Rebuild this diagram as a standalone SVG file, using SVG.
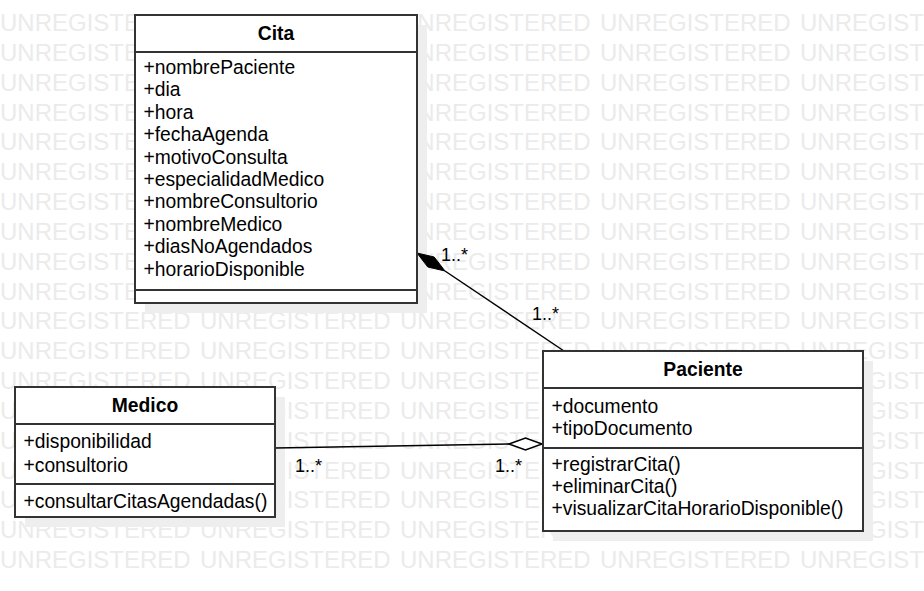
<svg xmlns="http://www.w3.org/2000/svg" width="924" height="591" viewBox="0 0 924 591">
<style>
.wm{font-family:"Liberation Sans",Arial,sans-serif;font-size:24px;fill:#ebebeb}
.t{font-family:"Liberation Sans",Arial,sans-serif;font-size:19.3px;fill:#000}
.b{font-weight:bold}
.lbl{font-family:"Liberation Sans",Arial,sans-serif;font-size:18px;fill:#000}
.box{fill:#fff;stroke:#333;stroke-width:2}
.sh{fill:#eeeeee}
.div{stroke:#333;stroke-width:2}
.conn{stroke:#000;stroke-width:1.5;fill:none}
</style>
<rect width="924" height="591" fill="#fff"/>
<g id="watermark" class="wm">
<text y="31"><tspan x="0">UNREGISTERED</tspan><tspan x="200">UNREGISTERED</tspan><tspan x="400">UNREGISTERED</tspan><tspan x="600">UNREGISTERED</tspan><tspan x="800">UNREGISTERED</tspan></text>
<text y="60.8"><tspan x="0">UNREGISTERED</tspan><tspan x="200">UNREGISTERED</tspan><tspan x="400">UNREGISTERED</tspan><tspan x="600">UNREGISTERED</tspan><tspan x="800">UNREGISTERED</tspan></text>
<text y="90.7"><tspan x="0">UNREGISTERED</tspan><tspan x="200">UNREGISTERED</tspan><tspan x="400">UNREGISTERED</tspan><tspan x="600">UNREGISTERED</tspan><tspan x="800">UNREGISTERED</tspan></text>
<text y="120.5"><tspan x="0">UNREGISTERED</tspan><tspan x="200">UNREGISTERED</tspan><tspan x="400">UNREGISTERED</tspan><tspan x="600">UNREGISTERED</tspan><tspan x="800">UNREGISTERED</tspan></text>
<text y="150.3"><tspan x="0">UNREGISTERED</tspan><tspan x="200">UNREGISTERED</tspan><tspan x="400">UNREGISTERED</tspan><tspan x="600">UNREGISTERED</tspan><tspan x="800">UNREGISTERED</tspan></text>
<text y="180.2"><tspan x="0">UNREGISTERED</tspan><tspan x="200">UNREGISTERED</tspan><tspan x="400">UNREGISTERED</tspan><tspan x="600">UNREGISTERED</tspan><tspan x="800">UNREGISTERED</tspan></text>
<text y="210"><tspan x="0">UNREGISTERED</tspan><tspan x="200">UNREGISTERED</tspan><tspan x="400">UNREGISTERED</tspan><tspan x="600">UNREGISTERED</tspan><tspan x="800">UNREGISTERED</tspan></text>
<text y="239.8"><tspan x="0">UNREGISTERED</tspan><tspan x="200">UNREGISTERED</tspan><tspan x="400">UNREGISTERED</tspan><tspan x="600">UNREGISTERED</tspan><tspan x="800">UNREGISTERED</tspan></text>
<text y="269.6"><tspan x="0">UNREGISTERED</tspan><tspan x="200">UNREGISTERED</tspan><tspan x="400">UNREGISTERED</tspan><tspan x="600">UNREGISTERED</tspan><tspan x="800">UNREGISTERED</tspan></text>
<text y="299.5"><tspan x="0">UNREGISTERED</tspan><tspan x="200">UNREGISTERED</tspan><tspan x="400">UNREGISTERED</tspan><tspan x="600">UNREGISTERED</tspan><tspan x="800">UNREGISTERED</tspan></text>
<text y="329.3"><tspan x="0">UNREGISTERED</tspan><tspan x="200">UNREGISTERED</tspan><tspan x="400">UNREGISTERED</tspan><tspan x="600">UNREGISTERED</tspan><tspan x="800">UNREGISTERED</tspan></text>
<text y="359.1"><tspan x="0">UNREGISTERED</tspan><tspan x="200">UNREGISTERED</tspan><tspan x="400">UNREGISTERED</tspan><tspan x="600">UNREGISTERED</tspan><tspan x="800">UNREGISTERED</tspan></text>
<text y="389"><tspan x="0">UNREGISTERED</tspan><tspan x="200">UNREGISTERED</tspan><tspan x="400">UNREGISTERED</tspan><tspan x="600">UNREGISTERED</tspan><tspan x="800">UNREGISTERED</tspan></text>
<text y="418.8"><tspan x="0">UNREGISTERED</tspan><tspan x="200">UNREGISTERED</tspan><tspan x="400">UNREGISTERED</tspan><tspan x="600">UNREGISTERED</tspan><tspan x="800">UNREGISTERED</tspan></text>
<text y="448.6"><tspan x="0">UNREGISTERED</tspan><tspan x="200">UNREGISTERED</tspan><tspan x="400">UNREGISTERED</tspan><tspan x="600">UNREGISTERED</tspan><tspan x="800">UNREGISTERED</tspan></text>
<text y="478.5"><tspan x="0">UNREGISTERED</tspan><tspan x="200">UNREGISTERED</tspan><tspan x="400">UNREGISTERED</tspan><tspan x="600">UNREGISTERED</tspan><tspan x="800">UNREGISTERED</tspan></text>
<text y="508.3"><tspan x="0">UNREGISTERED</tspan><tspan x="200">UNREGISTERED</tspan><tspan x="400">UNREGISTERED</tspan><tspan x="600">UNREGISTERED</tspan><tspan x="800">UNREGISTERED</tspan></text>
<text y="538.1"><tspan x="0">UNREGISTERED</tspan><tspan x="200">UNREGISTERED</tspan><tspan x="400">UNREGISTERED</tspan><tspan x="600">UNREGISTERED</tspan><tspan x="800">UNREGISTERED</tspan></text>
<text y="568"><tspan x="0">UNREGISTERED</tspan><tspan x="200">UNREGISTERED</tspan><tspan x="400">UNREGISTERED</tspan><tspan x="600">UNREGISTERED</tspan><tspan x="800">UNREGISTERED</tspan></text>
</g>
<g id="shadows">
<rect class="sh" x="145" y="25" width="282" height="288"/>
<rect class="sh" x="553" y="361" width="320" height="180"/>
<rect class="sh" x="25" y="397" width="260" height="130"/>
</g>
<g id="connectors">
<line class="conn" x1="445" y1="271" x2="564" y2="351"/>
<polygon points="417,253 434.2,257 445,271 427.8,267" fill="#000" stroke="#000" stroke-width="1"/>
<text class="lbl" x="441" y="261">1..*</text>
<text class="lbl" x="532" y="320">1..*</text>
<line class="conn" x1="275" y1="448" x2="509" y2="444"/>
<polygon points="542,444 525.5,438 509,444 525.5,450" fill="#fff" stroke="#000" stroke-width="1.5"/>
<text class="lbl" x="295" y="472">1..*</text>
<text class="lbl" x="495" y="472">1..*</text>
</g>
<g id="Cita">
<rect class="box" x="135" y="15" width="282" height="288"/>
<line class="div" x1="135" y1="52" x2="417" y2="52"/>
<line class="div" x1="135" y1="290" x2="417" y2="290"/>
<text class="t b" x="276" y="39.5" text-anchor="middle">Cita</text>
<text class="t" x="143.5" y="74">+nombrePaciente</text>
<text class="t" x="143.5" y="96.4">+dia</text>
<text class="t" x="143.5" y="118.8">+hora</text>
<text class="t" x="143.5" y="141.2">+fechaAgenda</text>
<text class="t" x="143.5" y="163.6">+motivoConsulta</text>
<text class="t" x="143.5" y="186">+especialidadMedico</text>
<text class="t" x="143.5" y="208.4">+nombreConsultorio</text>
<text class="t" x="143.5" y="230.8">+nombreMedico</text>
<text class="t" x="143.5" y="253.2">+diasNoAgendados</text>
<text class="t" x="143.5" y="275.6">+horarioDisponible</text>
</g>
<g id="Paciente">
<rect class="box" x="543" y="351" width="320" height="180"/>
<line class="div" x1="543" y1="388" x2="863" y2="388"/>
<line class="div" x1="543" y1="448" x2="863" y2="448"/>
<text class="t b" x="703" y="375.5" text-anchor="middle">Paciente</text>
<text class="t" x="551.5" y="412.7">+documento</text>
<text class="t" x="551.5" y="435">+tipoDocumento</text>
<text class="t" x="551.5" y="470.7">+registrarCita()</text>
<text class="t" x="551.5" y="493">+eliminarCita()</text>
<text class="t" x="551.5" y="515.3">+visualizarCitaHorarioDisponible()</text>
</g>
<g id="Medico">
<rect class="box" x="15" y="387" width="260" height="130"/>
<line class="div" x1="15" y1="424" x2="275" y2="424"/>
<line class="div" x1="15" y1="484" x2="275" y2="484"/>
<text class="t b" x="145" y="411.7" text-anchor="middle">Medico</text>
<text class="t" x="23.5" y="448.3">+disponibilidad</text>
<text class="t" x="23.5" y="471.7">+consultorio</text>
<text class="t" x="23.5" y="507.7">+consultarCitasAgendadas()</text>
</g>
</svg>
